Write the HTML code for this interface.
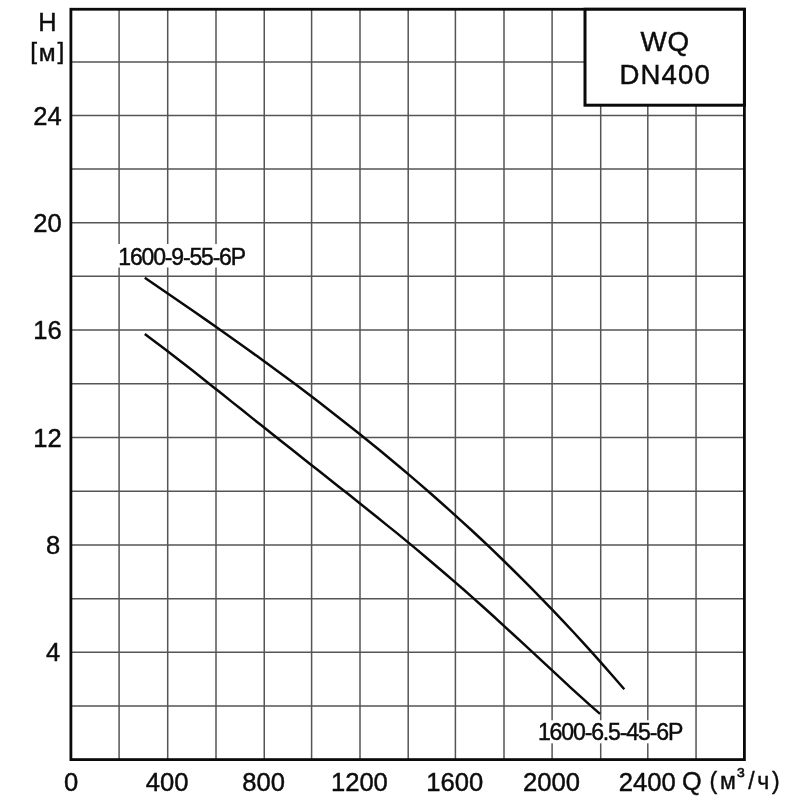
<!DOCTYPE html>
<html lang="ru"><head><meta charset="utf-8"><title>WQ DN400</title>
<style>
html,body{margin:0;padding:0;background:#fff;}
body{width:800px;height:800px;overflow:hidden;}
svg{display:block;filter:grayscale(1);}
text{font-family:"Liberation Sans",sans-serif;fill:#0c0c0c;stroke:#0c0c0c;stroke-width:0.45px;}
.u{stroke-width:0.4px;}
</style></head><body>
<svg width="800" height="800" viewBox="0 0 800 800">
<rect x="0" y="0" width="800" height="800" fill="#fff"/>

<g stroke="#555" stroke-width="1.5" fill="none">
<line x1="119.10" y1="9.25" x2="119.10" y2="759.6"/>
<line x1="167.70" y1="9.25" x2="167.70" y2="759.6"/>
<line x1="216.00" y1="9.25" x2="216.00" y2="759.6"/>
<line x1="264.25" y1="9.25" x2="264.25" y2="759.6"/>
<line x1="311.60" y1="9.25" x2="311.60" y2="759.6"/>
<line x1="360.00" y1="9.25" x2="360.00" y2="759.6"/>
<line x1="408.20" y1="9.25" x2="408.20" y2="759.6"/>
<line x1="455.40" y1="9.25" x2="455.40" y2="759.6"/>
<line x1="504.00" y1="9.25" x2="504.00" y2="759.6"/>
<line x1="552.10" y1="9.25" x2="552.10" y2="759.6"/>
<line x1="600.70" y1="9.25" x2="600.70" y2="759.6"/>
<line x1="647.80" y1="9.25" x2="647.80" y2="759.6"/>
<line x1="696.05" y1="9.25" x2="696.05" y2="759.6"/>
<line x1="70.9" y1="706.10" x2="744.4" y2="706.10"/>
<line x1="70.9" y1="652.25" x2="744.4" y2="652.25"/>
<line x1="70.9" y1="598.75" x2="744.4" y2="598.75"/>
<line x1="70.9" y1="545.00" x2="744.4" y2="545.00"/>
<line x1="70.9" y1="491.25" x2="744.4" y2="491.25"/>
<line x1="70.9" y1="437.50" x2="744.4" y2="437.50"/>
<line x1="70.9" y1="383.75" x2="744.4" y2="383.75"/>
<line x1="70.9" y1="330.00" x2="744.4" y2="330.00"/>
<line x1="70.9" y1="276.25" x2="744.4" y2="276.25"/>
<line x1="70.9" y1="222.75" x2="744.4" y2="222.75"/>
<line x1="70.9" y1="169.10" x2="744.4" y2="169.10"/>
<line x1="70.9" y1="115.60" x2="744.4" y2="115.60"/>
<line x1="70.9" y1="61.90" x2="744.4" y2="61.90"/>
</g>
<rect x="70.9" y="9.25" width="673.50" height="750.35" fill="none" stroke="#0a0a0a" stroke-width="2.8"/>
<rect x="585.0" y="9.25" width="159.40" height="95.95" fill="#fff" stroke="#0a0a0a" stroke-width="3"/>
<rect x="117" y="244" width="131" height="23.5" fill="#fff"/>
<rect x="536" y="720.3" width="150" height="23" fill="#fff"/>
<path d="M144.8,277.7 L155.0,284.7 L165.2,291.7 L175.4,298.7 L185.6,305.7 L195.8,312.8 L206.0,319.9 L216.2,327.0 L226.4,334.2 L236.6,341.4 L246.8,348.7 L257.0,356.1 L267.2,363.5 L277.4,371.0 L287.6,378.5 L297.8,386.1 L308.0,393.8 L318.2,401.6 L328.4,409.4 L338.6,417.4 L348.8,425.4 L359.0,433.5 L369.2,441.7 L379.4,450.0 L389.6,458.5 L399.8,467.0 L410.0,475.6 L420.2,484.4 L430.4,493.3 L440.6,502.2 L450.8,511.4 L461.0,520.6 L471.3,530.0 L481.5,539.5 L491.7,549.2 L501.9,559.0 L512.1,569.0 L522.3,579.1 L532.5,589.3 L542.7,599.8 L552.9,610.3 L563.1,621.1 L573.3,632.0 L583.5,643.1 L593.7,654.4 L603.9,665.9 L614.1,677.5 L624.3,689.3" fill="none" stroke="#0a0a0a" stroke-width="2.5" stroke-linejoin="round"/>
<path d="M144.8,334.0 L154.4,341.2 L164.1,348.4 L173.8,355.9 L183.5,363.4 L193.2,371.0 L202.9,378.7 L212.6,386.4 L222.2,394.1 L231.9,401.9 L241.6,409.6 L251.3,417.4 L261.0,425.1 L270.7,432.8 L280.4,440.5 L290.0,448.1 L299.7,455.8 L309.4,463.4 L319.1,471.1 L328.8,478.7 L338.5,486.4 L348.2,494.1 L357.8,501.8 L367.5,509.5 L377.2,517.3 L386.9,525.1 L396.6,532.9 L406.3,540.9 L416.0,548.9 L425.6,557.0 L435.3,565.2 L445.0,573.5 L454.7,581.9 L464.4,590.3 L474.1,598.9 L483.8,607.5 L493.5,616.3 L503.1,625.1 L512.8,634.0 L522.5,642.9 L532.2,651.9 L541.9,660.9 L551.6,669.9 L561.3,678.9 L570.9,687.8 L580.6,696.7 L590.3,705.4 L600.0,713.9" fill="none" stroke="#0a0a0a" stroke-width="2.5" stroke-linejoin="round"/>
<text class="u" x="47.5" y="30.9" font-size="25.4" text-anchor="middle">H</text>
<text class="u" x="30.3 38.8 57.4" y="59.3 60.5 59.3" font-size="24.5">[м]</text>
<text x="61.6" y="124.80" font-size="25.5" text-anchor="end">24</text>
<text x="61.6" y="231.95" font-size="25.5" text-anchor="end">20</text>
<text x="61.6" y="339.20" font-size="25.5" text-anchor="end">16</text>
<text x="61.6" y="446.70" font-size="25.5" text-anchor="end">12</text>
<text x="60.3" y="554.20" font-size="25.5" text-anchor="end">8</text>
<text x="60.3" y="661.45" font-size="25.5" text-anchor="end">4</text>
<text x="71.00" y="790.6" font-size="25.6" text-anchor="middle">0</text>
<text x="167.10" y="790.6" font-size="25.6" text-anchor="middle">400</text>
<text x="263.65" y="790.6" font-size="25.6" text-anchor="middle">800</text>
<text x="359.40" y="790.6" font-size="25.6" text-anchor="middle">1200</text>
<text x="454.80" y="790.6" font-size="25.6" text-anchor="middle">1600</text>
<text x="551.50" y="790.6" font-size="25.6" text-anchor="middle">2000</text>
<text x="647.20" y="790.6" font-size="25.6" text-anchor="middle">2400</text>
<text class="u" x="682" y="789.8" font-size="25.3">Q</text>
<text class="u" x="709.5 720 737.1 748.2 757.2 771.9" y="789.2 789.2 782.5 789.2 789.2 789.2" font-size="23">(м³/ч)</text>
<text x="118.3" y="264.6" font-size="23" letter-spacing="-1.17">1600-9-55-6P</text>
<text x="537.9" y="739.6" font-size="23.1" letter-spacing="-1.16">1600-6.5-45-6P</text>
<text x="640.4" y="50.7" font-size="27.8" letter-spacing="0.76">WQ</text>
<text x="619.4" y="83.5" font-size="27.6" letter-spacing="1.14">DN400</text>
</svg>
</body></html>
